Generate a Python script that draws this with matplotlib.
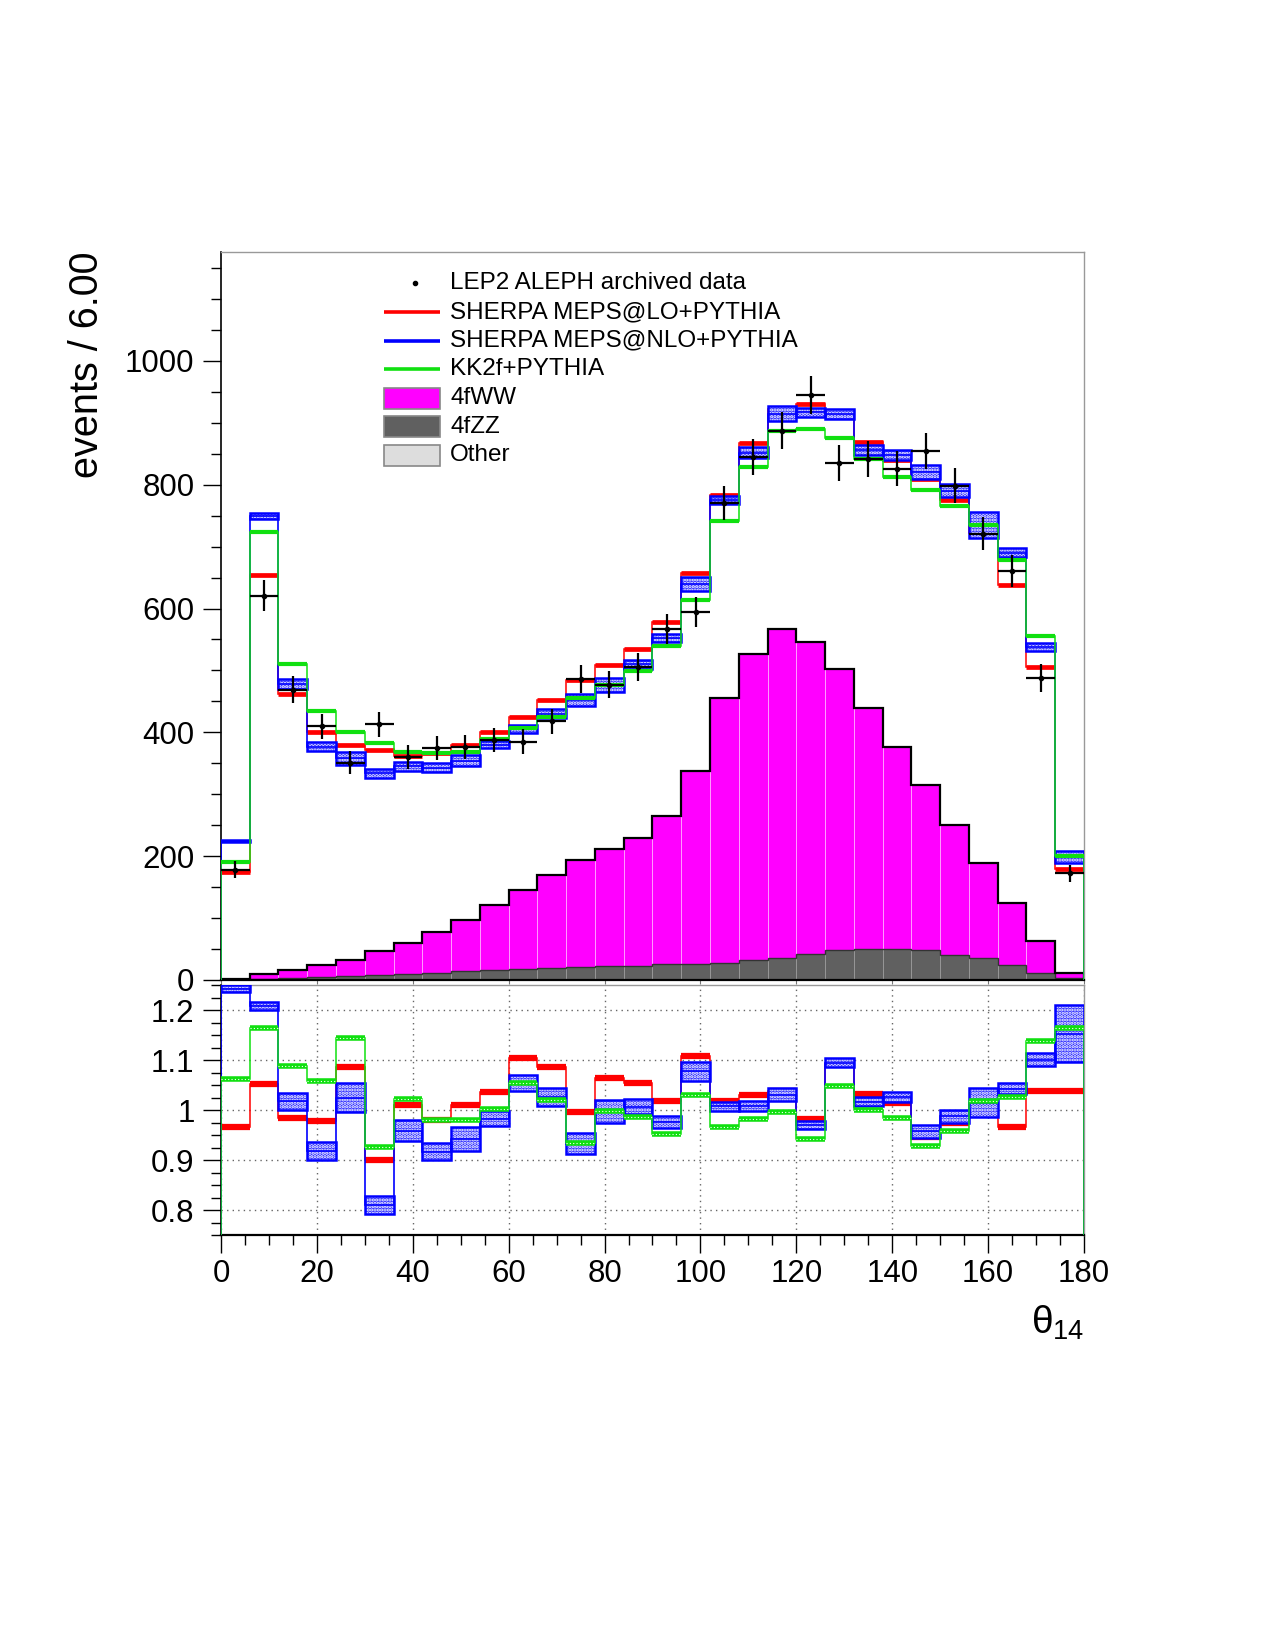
import numpy as np
import matplotlib.pyplot as plt
from matplotlib.patches import Rectangle
from matplotlib.ticker import MultipleLocator, FixedLocator

plt.rcParams['font.family'] = ['Liberation Sans', 'DejaVu Sans']
plt.rcParams['mathtext.fontset'] = 'custom'
plt.rcParams['mathtext.rm'] = 'Liberation Sans'
plt.rcParams['mathtext.it'] = 'Liberation Sans'
plt.rcParams['hatch.linewidth'] = 1.6

# binning: 30 bins of 6 degrees
edges = np.arange(0, 181, 6)

# main panel (events / bin)
data = [178, 621, 469, 410, 351, 413, 360, 374, 376, 388, 385, 418, 486, 477, 506,
        567, 594, 770, 844, 887, 945, 835, 841, 826, 854, 798, 721, 661, 488, 172]
sherpa_lo = [174, 654, 462, 401, 380, 372, 362, 366, 380, 401, 425, 453, 485, 508, 535,
             578, 658, 783, 868, 922, 930, 911, 869, 840, 810, 775, 722, 638, 506, 180]
sherpa_nlo = [224, 749, 478, 377, 358, 334, 345, 343, 354, 380, 405, 430, 452, 476, 510,
              552, 640, 775, 852, 915, 917, 914, 856, 848, 820, 790, 735, 690, 538, 199]
nlo_err = [1.3, 5, 8, 7, 10.5, 7.5, 7.5, 6.7, 9, 5.8, 6.2, 7.5, 10.2, 11, 7.6,
           6.8, 11.3, 6.9, 8.4, 11.5, 7.6, 7.5, 7.6, 8.3, 11.1, 10.4, 20.9, 7.3, 6.3, 9.8]
kk2f = [190, 723, 511, 434, 400, 382, 368, 367, 368, 389, 407, 424, 455, 476, 499,
        540, 613, 742, 828, 886, 890, 876, 842, 813, 792, 765, 735, 678, 556, 200]

ww = [0.5, 6.8, 12.4, 19.4, 27, 39.5, 51, 66, 82.6, 105, 128, 150, 172, 189, 206,
      239, 311, 427, 495, 531, 505, 455, 390, 327, 267, 210, 154, 101, 51, 8]
zz = [0.2, 1.4, 2.4, 3.5, 5.1, 6.5, 8.1, 10.8, 13, 14.6, 16.8, 19, 20.6, 21, 21.6,
      24.4, 25.4, 27, 30.8, 34.4, 40.3, 46.8, 48.4, 48.4, 46.8, 39.3, 33.8, 22.7, 10.9, 2.0]
other = [0.3, 0.8, 0.8, 0.8, 0.8, 1, 1, 1, 1, 1, 1, 1, 1, 1, 1,
         1, 1, 1, 1, 1.2, 1.2, 1.2, 1.2, 1.2, 1.2, 1.2, 1.2, 1, 1, 0.8]

# ratio panel (MC / data)
ratio_lo = [0.966, 1.053, 0.985, 0.978, 1.086, 0.900, 1.011, 0.981, 1.011, 1.036,
            1.105, 1.087, 0.997, 1.065, 1.055, 1.019, 1.109, 1.018, 1.030, 1.038,
            0.983, 1.093, 1.033, 1.015, 0.947, 0.975, 1.001, 0.966, 1.039, 1.039]
ratio_nlo = [1.243, 1.209, 1.018, 0.918, 1.025, 0.810, 0.959, 0.917, 0.943, 0.983,
             1.054, 1.027, 0.933, 0.997, 1.007, 0.976, 1.078, 1.008, 1.009, 1.031,
             0.971, 1.095, 1.017, 1.027, 0.958, 0.988, 1.015, 1.043, 1.101, 1.153]
ratio_kk = [1.063, 1.165, 1.089, 1.058, 1.145, 0.926, 1.023, 0.981, 0.980, 1.003,
            1.055, 1.021, 0.935, 0.998, 0.986, 0.953, 1.031, 0.966, 0.983, 0.997,
            0.943, 1.049, 1.001, 0.985, 0.928, 0.959, 1.018, 1.026, 1.139, 1.165]

RED = '#ff0000'
BLUE = '#0000ff'
GREEN = '#10e010'
MAGENTA = '#ff00ff'
ZZGREY = '#606060'
OTHERGREY = '#dddddd'

data = np.array(data, float)
centers = 0.5 * (edges[:-1] + edges[1:])
width = np.diff(edges)


def mc_line(axis, vals, color, thick, thin, z):
    axis.stairs(vals, edges, baseline=0, color=color, lw=thin, zorder=z)
    axis.hlines(vals, edges[:-1], edges[1:], color=color, lw=thick, zorder=z)


def blue_band(axis, vals, err, z):
    vals = np.asarray(vals, float)
    err = np.asarray(err, float)
    axis.bar(centers, 2 * err, bottom=vals - err, width=width, color='#2a2aff',
             edgecolor='white', linewidth=0, hatch='.....', zorder=z)
    axis.bar(centers, 2 * err, bottom=vals - err, width=width, fill=False,
             edgecolor=BLUE, linewidth=1.8, zorder=z)
    axis.stairs(vals, edges, baseline=0, color=BLUE, lw=1.2, zorder=z)


fig = plt.figure(figsize=(12.75, 16.5), dpi=100)
ax = fig.add_axes([0.1733, 0.4061, 0.6769, 0.4412])
axr = fig.add_axes([0.1733, 0.2515, 0.6769, 0.1515])

# ---- main panel ----
other_a = np.array(other)
zz_a = np.array(zz)
ww_a = np.array(ww)
ax.bar(centers, other_a, width=width, color=OTHERGREY, edgecolor='#bbbbbb', lw=0.5, zorder=1)
ax.bar(centers, zz_a, bottom=other_a, width=width, color=ZZGREY, edgecolor='#9a9a9a', lw=0.6, zorder=1)
ax.bar(centers, ww_a, bottom=other_a + zz_a, width=width, color=MAGENTA, edgecolor='#ffa8ff', lw=0.6, zorder=1)
ax.stairs(other_a + zz_a, edges, color='#333333', lw=1.0, zorder=1.5)
ax.stairs(other_a + zz_a + ww_a, edges, color='black', lw=1.6, zorder=1.5)

mc_line(ax, sherpa_lo, RED, 3.4, 1.1, 2)
blue_band(ax, sherpa_nlo, nlo_err, 3)
mc_line(ax, kk2f, GREEN, 3.0, 1.1, 4)
ax.errorbar(centers, data, xerr=width / 2, yerr=np.sqrt(data), fmt='o', ms=3,
            color='black', elinewidth=1.6, capsize=0, zorder=5)

ax.set_xlim(0, 180)
ax.set_ylim(0, 1176)
ax.yaxis.set_major_locator(FixedLocator(np.arange(0, 1001, 200)))
ax.yaxis.set_minor_locator(MultipleLocator(50))
ax.xaxis.set_major_locator(MultipleLocator(20))
ax.tick_params(axis='y', which='major', direction='out', length=13, width=1,
               labelsize=22.5, pad=6)
ax.tick_params(axis='y', which='minor', direction='out', length=7.5, width=1)
ax.tick_params(axis='x', which='major', direction='out', length=3, width=0.8,
               labelbottom=False, color='#777777')
for s in ('top', 'right'):
    ax.spines[s].set_color('#999999')
    ax.spines[s].set_linewidth(1.0)
ax.spines['left'].set_linewidth(1.2)
ax.spines['bottom'].set_linewidth(1.6)

# legend (drawn by hand in axes fraction, ROOT style)
labels = ['LEP2 ALEPH archived data', 'SHERPA MEPS@LO+PYTHIA',
          'SHERPA MEPS@NLO+PYTHIA', 'KK2f+PYTHIA', '4fWW', '4fZZ', 'Other']
kinds = ['dot', 'line', 'line', 'line', 'box', 'box', 'box']
colors = ['black', RED, BLUE, GREEN, MAGENTA, ZZGREY, OTHERGREY]
x0, x1, xt = 0.1889, 0.2538, 0.2654
y_first, dy, hh = 0.9570, 0.03942, 0.0144
for i, (lab, kind, col) in enumerate(zip(labels, kinds, colors)):
    y = y_first - i * dy
    if kind == 'dot':
        ax.plot([0.2254], [y], 'o', ms=3, color=col, transform=ax.transAxes, clip_on=False)
    elif kind == 'line':
        ax.plot([x0, x1], [y, y], color=col, lw=2.6, transform=ax.transAxes, solid_capstyle='butt')
    else:
        ax.add_patch(Rectangle((x0, y - hh), x1 - x0, 2 * hh, facecolor=col,
                               edgecolor='#888888', lw=1.2, transform=ax.transAxes, zorder=6))
    ax.text(xt, y, lab, transform=ax.transAxes, fontsize=17.5, va='center', ha='left')

fig.text(0.0684, 0.8473, 'events / 6.00', rotation=90, ha='center', va='top', fontsize=28.5)

# ---- ratio panel ----
mc_line(axr, ratio_lo, RED, 4.5, 1.1, 2)
blue_band(axr, ratio_nlo, np.array(nlo_err) / data, 3)
mc_line(axr, ratio_kk, GREEN, 4.0, 1.1, 4)
axr.hlines(ratio_kk, edges[:-1], edges[1:], color='white', lw=0.8,
           linestyles=(0, (1, 2)), zorder=4.5)

axr.set_xlim(0, 180)
axr.set_ylim(0.75, 1.25)
axr.yaxis.set_major_locator(FixedLocator([0.8, 0.9, 1.0, 1.1, 1.2]))
axr.set_yticklabels(['0.8', '0.9', '1', '1.1', '1.2'])
axr.yaxis.set_minor_locator(MultipleLocator(0.025))
axr.xaxis.set_major_locator(MultipleLocator(20))
axr.xaxis.set_minor_locator(MultipleLocator(5))
axr.tick_params(axis='both', which='major', direction='out', length=13, width=1,
                labelsize=22.5, pad=6)
axr.tick_params(axis='both', which='minor', direction='out', length=7.5, width=1)
axr.tick_params(axis='x', which='major', pad=4)
axr.grid(True, which='major', color='#666666', lw=1.0, linestyle=(0, (1, 3)))
axr.set_axisbelow(True)
for s in ('top', 'right'):
    axr.spines[s].set_color('#999999')
    axr.spines[s].set_linewidth(1.0)
axr.spines['bottom'].set_linewidth(1.6)
axr.spines['left'].set_linewidth(1.2)

fig.text(0.850, 0.1915, r'$\theta_{14}$', ha='right', va='baseline', fontsize=28)

fig.savefig('out.png', dpi=100)
